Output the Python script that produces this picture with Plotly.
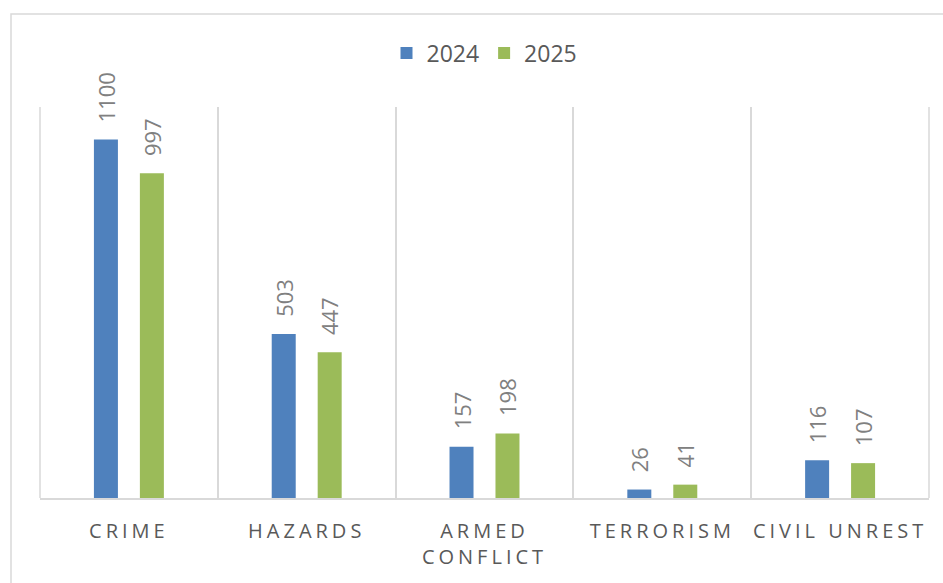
import plotly.graph_objects as go

categories = ["CRIME", "HAZARDS", "ARMED<br>CONFLICT", "TERRORISM", "CIVIL UNREST"]
series_names = ["2024", "2025"]
values_2024 = [1100, 503, 157, 26, 116]
values_2025 = [997, 447, 198, 41, 107]
colors = ["#4F81BD", "#9BBB59"]

W, H = 943, 583
ml, mr, mt, mb = 40, 14, 107, 85
pw, ph = W - ml - mr, H - mt - mb

fig = go.Figure()
for name, vals, col in zip(series_names, [values_2024, values_2025], colors):
    fig.add_trace(go.Bar(x=categories, y=vals, name=name, marker_color=col,
                         marker_line_width=0))

# rotated data labels
for vals, shift in [(values_2024, -23), (values_2025, 23)]:
    for c, v in zip(categories, vals):
        fig.add_annotation(x=c, y=v, xref="x", yref="y", text=str(v), textangle=-90,
                           showarrow=False, xanchor="center", yanchor="bottom",
                           xshift=shift, yshift=15,
                           font=dict(family="Open Sans", size=22, color="#808080"))

# outer chart border
fig.add_shape(type="rect", xref="paper", yref="paper",
              x0=(11 - ml) / pw, x1=(W + 20 - ml) / pw,
              y0=(H - mb - (H + 20)) / ph, y1=(H - mb - 14) / ph,
              line=dict(color="#D9D9D9", width=1.5), fillcolor="rgba(0,0,0,0)", layer="below")
# left / right frame lines of the plot area (category boundaries at the ends)
for xp in (0, 1):
    fig.add_shape(type="line", xref="paper", yref="paper", x0=xp, x1=xp, y0=0, y1=1,
                  line=dict(color="#D9D9D9", width=1.5), layer="below")

fig.update_layout(
    width=W, height=H,
    margin=dict(l=ml, r=mr, t=mt, b=mb, autoexpand=False),
    paper_bgcolor="white", plot_bgcolor="white",
    barmode="group", bargap=0.483, bargroupgap=0.478,
    showlegend=True,
    legend=dict(orientation="h", x=0.5, xanchor="center", y=1 - 53 / H, yref="container",
                yanchor="middle",
                font=dict(family="Open Sans", size=23, color="#595959"), itemwidth=30,
                traceorder="normal"),
    xaxis=dict(tickson="boundaries", showgrid=True, gridcolor="#D9D9D9", gridwidth=1.5,
               showline=True, linecolor="#D9D9D9", linewidth=1.5, ticks="",
               automargin=False, ticklabelstandoff=14,
               tickfont=dict(family="Open Sans", size=20, color="#595959")),
    yaxis=dict(range=[0, 1200], showgrid=False, showticklabels=False, zeroline=False,
               showline=False, automargin=False),
    font=dict(family="Open Sans"),
)

post = """
document.body.style.margin='0';
document.body.style.overflow='hidden';
function ls(){document.querySelectorAll('.xtick text').forEach(function(t){
  t.style.letterSpacing='4px';
  t.querySelectorAll('tspan').forEach(function(s){s.style.letterSpacing='4px';});
});}
ls(); setTimeout(ls, 50);
"""

fig.write_html("out.html", post_script=post, config={"displayModeBar": False})
